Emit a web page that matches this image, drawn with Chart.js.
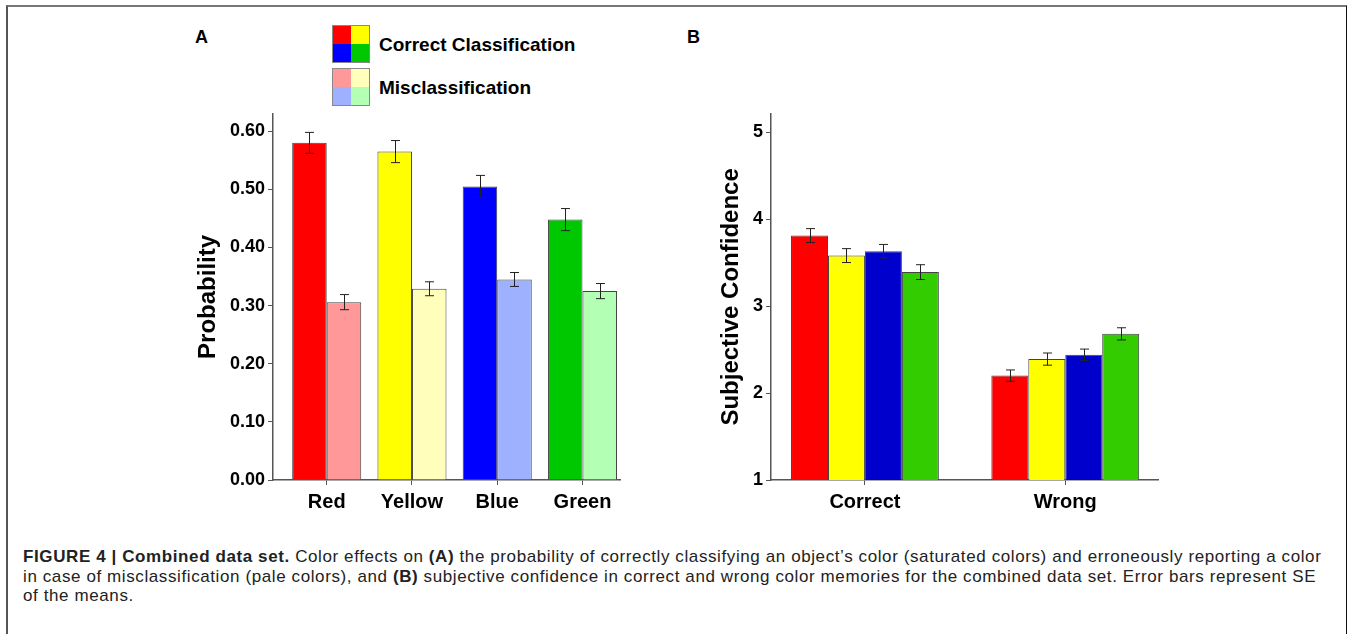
<!DOCTYPE html>
<html lang="en">
<head>
<meta charset="UTF-8">
<title>Figure 4 - Combined data set</title>
<style>
  body { margin: 0; background: #fff; font-family: "Liberation Sans", Arial, sans-serif; }
  #page { position: relative; width: 1349px; height: 634px; overflow: hidden; }
  #frame { position: absolute; left: 6px; top: 5px; width: 1338px; height: 700px;
           border-top: 2px solid #777; border-left: 2px solid #555; border-right: 1px solid #111; }
  .panel-label { position: absolute; font-weight: bold; font-size: 18px; line-height: 18px; color: #000; }
  .box { position: absolute; }
  .legend-row { position: absolute; left: 332px; display: flex; align-items: center; }
  .quad { width: 38px; height: 38px; display: grid; grid-template-columns: 1fr 1fr; grid-template-rows: 1fr 1fr;
          border: 1px solid #888; box-sizing: border-box; gap: 0; }
  .quad span { display: block; }
  .legend-text { margin-left: 9px; font-weight: bold; font-size: 19px; line-height: 19px; color: #000; }
  #caption { position: absolute; left: 23px; top: 547px; font-size: 17px; letter-spacing: 0.6px; line-height: 19.5px;
             color: #222; white-space: nowrap; }
</style>
</head>
<body>
<div id="page">
  <div id="frame"></div>
  <div class="panel-label" style="left:195px; top:28px;">A</div>
  <div class="panel-label" style="left:687px; top:28px;">B</div>
  <div class="legend-row" style="top:25px;">
    <div class="quad" id="quadCorrect"></div>
    <div class="legend-text">Correct Classification</div>
  </div>
  <div class="legend-row" style="top:68px;">
    <div class="quad" id="quadMis"></div>
    <div class="legend-text">Misclassification</div>
  </div>
  <div class="box" style="left:183px; top:100px; width:447px; height:420px;"><canvas id="chartA"></canvas></div>
  <div class="box" style="left:713px; top:100px; width:455px; height:420px;"><canvas id="chartB"></canvas></div>
  <div id="caption"><b>FIGURE 4 | Combined data set.</b> Color effects on <b>(A)</b> the probability of correctly classifying an object’s color (saturated colors) and erroneously reporting a color<br>in case of misclassification (pale colors), and <b>(B)</b> subjective confidence in correct and wrong color memories for the combined data set. Error bars represent SE<br>of the means.</div>
</div>

<script src="https://cdn.jsdelivr.net/npm/chart.js"></script>
<script>
// Panel A: probability per color
const colorNames = ['Red', 'Yellow', 'Blue', 'Green'];
const correctA = [0.580, 0.565, 0.505, 0.448];
const correctSeA = [0.018, 0.019, 0.019, 0.019];
const misA = [0.306, 0.329, 0.345, 0.325];
const misSeA = [0.013, 0.012, 0.012, 0.013];
const yTicksA = [0, 0.1, 0.2, 0.3, 0.4, 0.5, 0.6];

// Panel B: subjective confidence
const groupsB = ['Correct', 'Wrong'];
const redB = [3.81, 2.20];
const yellowB = [3.58, 2.39];
const blueB = [3.63, 2.44];
const greenB = [3.39, 2.68];
const redSeB = [0.08, 0.065];
const yellowSeB = [0.08, 0.07];
const blueSeB = [0.078, 0.065];
const greenSeB = [0.085, 0.07];
const yTicksB = [1, 2, 3, 4, 5];

// colours
const satA = ['#ff0000', '#ffff00', '#0000ff', '#00c800'];
const paleA = ['#ff9999', '#ffffbb', '#9db1ff', '#b3ffb3'];
const satB = ['#ff0000', '#ffff00', '#0000cc', '#33cc00'];

// legend squares
function fillQuad(id, cols) {
    const el = document.getElementById(id);
    cols.forEach(c => {
        const s = document.createElement('span');
        s.style.background = c;
        el.appendChild(s);
    });
}
fillQuad('quadCorrect', satA);
fillQuad('quadMis', paleA);

// error bars drawn from each dataset's "se" list
const errorBars = {
    id: 'errorBars',
    afterDatasetsDraw(chart) {
        const ctx = chart.ctx;
        const y = chart.scales.y;
        ctx.save();
        ctx.strokeStyle = '#222';
        ctx.lineWidth = 1;
        chart.data.datasets.forEach((ds, di) => {
            const meta = chart.getDatasetMeta(di);
            meta.data.forEach((bar, i) => {
                const v = ds.data[i].y, e = ds.se[i];
                const top = y.getPixelForValue(v + e);
                const bot = y.getPixelForValue(v - e);
                const x = Math.round(bar.x) + 0.5;
                ctx.beginPath();
                ctx.moveTo(x, top); ctx.lineTo(x, bot);
                ctx.moveTo(x - 4.5, top); ctx.lineTo(x + 4.5, top);
                ctx.moveTo(x - 4.5, bot); ctx.lineTo(x + 4.5, bot);
                ctx.stroke();
            });
        });
        ctx.restore();
    }
};

const tickFont = { family: '"Liberation Sans", Arial, sans-serif', size: 18, weight: 'bold' };
const labelFont = { family: '"Liberation Sans", Arial, sans-serif', size: 20, weight: 'bold' };
const titleFont = { family: '"Liberation Sans", Arial, sans-serif', size: 24, weight: 'bold' };
const axisGrid = { drawOnChartArea: false, drawTicks: true, tickLength: 5, color: '#555', offset: false };
const axisBorder = { color: '#555', width: 1.5 };

const points = (vals) => vals.map((v, i) => ({ x: i + 1, y: v }));

new Chart(document.getElementById('chartA'), {
    type: 'bar',
    data: {
        datasets: [
            { label: 'Correct Classification', data: points(correctA), se: correctSeA,
              backgroundColor: satA, borderColor: '#444', borderWidth: 1 },
            { label: 'Misclassification', data: points(misA), se: misSeA,
              backgroundColor: paleA, borderColor: '#444', borderWidth: 1 }
        ]
    },
    options: {
        responsive: true,
        maintainAspectRatio: false,
        animation: false,
        layout: { padding: { top: 10, right: 10, bottom: 0, left: 0 } },
        datasets: { bar: { barPercentage: 1, categoryPercentage: 0.81 } },
        plugins: { legend: { display: false }, tooltip: { enabled: false } },
        scales: {
            x: {
                type: 'linear', min: 0.37, max: 4.44, offset: false,
                afterBuildTicks: s => { s.ticks = colorNames.map((n, i) => ({ value: i + 1 })); },
                ticks: { callback: v => colorNames[Math.round(v) - 1], font: labelFont, color: '#000',
                         padding: 5, maxRotation: 0, autoSkip: false },
                grid: axisGrid,
                border: axisBorder,
                afterFit: s => { s.height = 40; }
            },
            y: {
                min: 0, max: 0.63,
                afterBuildTicks: s => { s.ticks = yTicksA.map(v => ({ value: v })); },
                ticks: { callback: v => v.toFixed(2), font: tickFont, color: '#000', padding: 3 },
                grid: axisGrid,
                border: axisBorder,
                title: { display: true, text: 'Probability', font: titleFont, color: '#000', padding: { top: 11, bottom: 0 } },
                afterFit: s => { s.width = 90; }
            }
        }
    },
    plugins: [errorBars]
});

new Chart(document.getElementById('chartB'), {
    type: 'bar',
    data: {
        datasets: [
            { label: 'Red', data: points(redB), se: redSeB, backgroundColor: satB[0], borderColor: '#444', borderWidth: 1 },
            { label: 'Yellow', data: points(yellowB), se: yellowSeB, backgroundColor: satB[1], borderColor: '#444', borderWidth: 1 },
            { label: 'Blue', data: points(blueB), se: blueSeB, backgroundColor: satB[2], borderColor: '#444', borderWidth: 1 },
            { label: 'Green', data: points(greenB), se: greenSeB, backgroundColor: satB[3], borderColor: '#444', borderWidth: 1 }
        ]
    },
    options: {
        responsive: true,
        maintainAspectRatio: false,
        animation: false,
        layout: { padding: { top: 10, right: 10, bottom: 0, left: 0 } },
        datasets: { bar: { barPercentage: 1, categoryPercentage: 0.738 } },
        plugins: { legend: { display: false }, tooltip: { enabled: false } },
        scales: {
            x: {
                type: 'linear', min: 0.531, max: 2.463, offset: false,
                afterBuildTicks: s => { s.ticks = groupsB.map((n, i) => ({ value: i + 1 })); },
                ticks: { callback: v => groupsB[Math.round(v) - 1], font: labelFont, color: '#000',
                         padding: 5, maxRotation: 0, autoSkip: false },
                grid: axisGrid,
                border: axisBorder,
                afterFit: s => { s.height = 40; }
            },
            y: {
                min: 1, max: 5.21,
                afterBuildTicks: s => { s.ticks = yTicksB.map(v => ({ value: v })); },
                ticks: { callback: v => String(v), font: tickFont, color: '#000', padding: 3 },
                grid: axisGrid,
                border: axisBorder,
                title: { display: true, text: 'Subjective Confidence', font: titleFont, color: '#000', padding: { top: 4, bottom: 0 } },
                afterFit: s => { s.width = 58; }
            }
        }
    },
    plugins: [errorBars]
});
</script>
</body>
</html>
